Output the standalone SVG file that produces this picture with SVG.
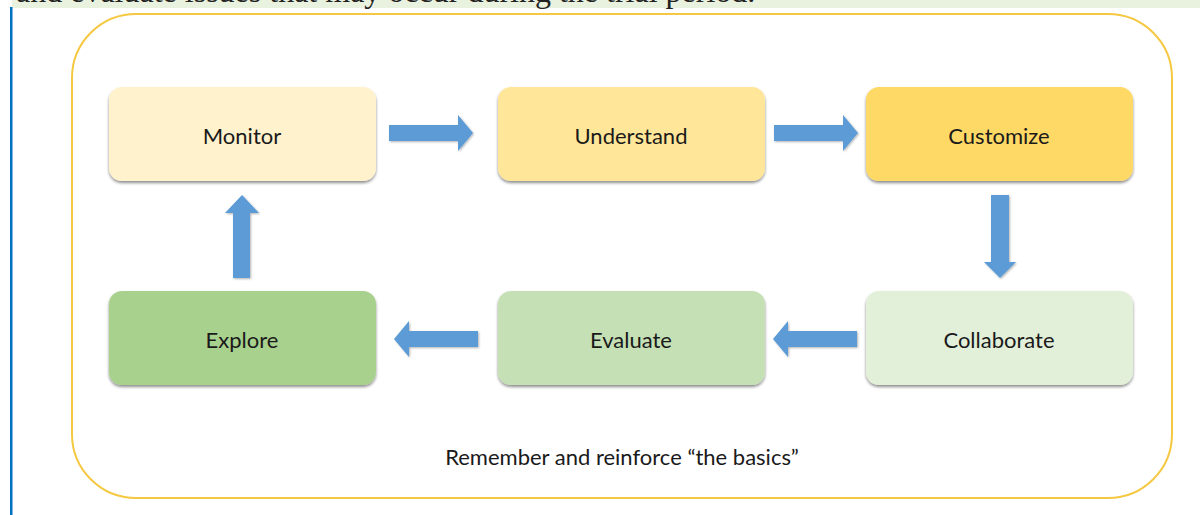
<svg xmlns="http://www.w3.org/2000/svg" width="1200" height="515" viewBox="0 0 1200 515">
<defs>
<filter id="sh" x="-10%" y="-10%" width="120%" height="130%">
<feGaussianBlur in="SourceAlpha" stdDeviation="1.5"/>
<feOffset dx="0" dy="2" result="b"/>
<feComponentTransfer><feFuncA type="linear" slope="0.45"/></feComponentTransfer>
<feMerge><feMergeNode/><feMergeNode in="SourceGraphic"/></feMerge>
</filter>
<filter id="ash" x="-10%" y="-10%" width="130%" height="130%">
<feGaussianBlur in="SourceAlpha" stdDeviation="1"/>
<feOffset dx="1" dy="1"/>
<feComponentTransfer><feFuncA type="linear" slope="0.3"/></feComponentTransfer>
<feMerge><feMergeNode/><feMergeNode in="SourceGraphic"/></feMerge>
</filter>
</defs>
<style>
.box{stroke:none;filter:url(#sh)}
.lbl{font-family:Lato,"Open Sans",sans-serif;font-size:22px;fill:#1a1a1a;text-anchor:middle;dominant-baseline:central}
.arr{fill:#5B9BD5;filter:url(#ash)}
</style>
<rect x="0" y="0" width="1200" height="515" fill="#ffffff"/>
<rect x="12" y="0" width="1188" height="8" fill="#E9F1DF"/>
<text x="16" y="2" font-family="Liberation Serif,serif" font-size="32" fill="#222">and evaluate issues that may occur during the trial period.</text>
<rect x="10" y="7" width="2.5" height="508" fill="#0070C0"/>
<rect x="72" y="14" width="1100" height="484" rx="64" ry="64" fill="#FFFFFF" stroke="#F5C842" stroke-width="2"/>
<g id="connectors">
<path class="arr" d="M389,125 H458 V115 L473,133 L458,151 V141 H389 Z"/>
<path class="arr" d="M774,125 H843 V115 L858,133 L843,151 V141 H774 Z"/>
<path class="arr" d="M991,195 H1009 V262 H1016 L1000,278 L984,262 H991 Z"/>
<path class="arr" d="M857,331 H788 V321 L773,339 L788,357 V347 H857 Z"/>
<path class="arr" d="M478,331 H409 V321 L394,339 L409,357 V347 H478 Z"/>
<path class="arr" d="M233,278 H250 V213 H259 L242,195 L225,213 H233 Z"/>
</g>
<g id="monitor"><rect class="box" x="109" y="87" width="267" height="94" rx="13" fill="#FFF2CC"/><text class="lbl" x="242" y="135">Monitor</text></g>
<g id="understand"><rect class="box" x="498" y="87" width="267" height="94" rx="13" fill="#FFE699"/><text class="lbl" x="631" y="135">Understand</text></g>
<g id="customize"><rect class="box" x="866" y="87" width="267" height="94" rx="13" fill="#FFD966"/><text class="lbl" x="999" y="135">Customize</text></g>
<g id="explore"><rect class="box" x="109" y="291" width="267" height="94" rx="13" fill="#A9D18E"/><text class="lbl" x="242" y="339">Explore</text></g>
<g id="evaluate"><rect class="box" x="498" y="291" width="267" height="94" rx="13" fill="#C5E0B4"/><text class="lbl" x="631" y="339">Evaluate</text></g>
<g id="collaborate"><rect class="box" x="866" y="291" width="267" height="94" rx="13" fill="#E2F0D9"/><text class="lbl" x="999" y="339">Collaborate</text></g>
<text x="622" y="456" font-family="Lato,'Open Sans',sans-serif" font-size="22" fill="#1a1a1a" text-anchor="middle" dominant-baseline="central">Remember and reinforce “the basics”</text>
</svg>
